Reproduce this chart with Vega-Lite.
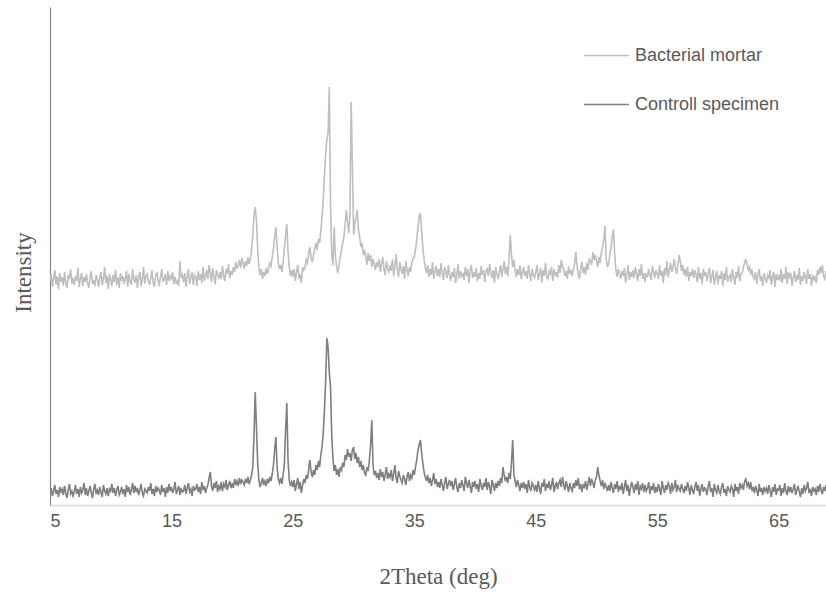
{
"$schema": "https://vega.github.io/schema/vega-lite/v6.json",
"width": 776, "height": 498,
"autosize": {"type": "none"},
"padding": {"left": 50, "top": 7, "right": 0, "bottom": 91},
"background": "white",
"config": {"view": {"stroke": null}},
"data": {"values": [
{"t":5.0,"C":12,"B":224},{"t":5.1,"C":17,"B":231},{"t":5.2,"C":9,"B":218},{"t":5.3,"C":14,"B":227},{"t":5.4,"C":20,"B":235},{"t":5.5,"C":11,"B":220},{"t":5.6,"C":15,"B":229},{"t":5.7,"C":8,"B":216},{"t":5.8,"C":18,"B":232},{"t":5.9,"C":13,"B":223},
{"t":6.0,"C":16,"B":228},{"t":6.1,"C":10,"B":219},{"t":6.2,"C":19,"B":233},{"t":6.3,"C":12,"B":222},{"t":6.4,"C":7,"B":217},{"t":6.5,"C":15,"B":230},{"t":6.6,"C":21,"B":226},{"t":6.7,"C":11,"B":236},{"t":6.8,"C":14,"B":221},{"t":6.9,"C":9,"B":227},
{"t":7.0,"C":13,"B":220},{"t":7.1,"C":20,"B":229},{"t":7.2,"C":11,"B":224},{"t":7.3,"C":16,"B":237},{"t":7.4,"C":8,"B":218},{"t":7.5,"C":18,"B":226},{"t":7.6,"C":12,"B":232},{"t":7.7,"C":15,"B":219},{"t":7.8,"C":22,"B":228},{"t":7.9,"C":10,"B":223},
{"t":8.0,"C":17,"B":231},{"t":8.1,"C":9,"B":222},{"t":8.2,"C":14,"B":217},{"t":8.3,"C":19,"B":228},{"t":8.4,"C":12,"B":234},{"t":8.5,"C":7,"B":221},{"t":8.6,"C":16,"B":225},{"t":8.7,"C":21,"B":219},{"t":8.8,"C":11,"B":230},{"t":8.9,"C":15,"B":226},
{"t":9.0,"C":10,"B":218},{"t":9.1,"C":18,"B":227},{"t":9.2,"C":13,"B":233},{"t":9.3,"C":8,"B":220},{"t":9.4,"C":20,"B":226},{"t":9.5,"C":14,"B":238},{"t":9.6,"C":11,"B":222},{"t":9.7,"C":17,"B":229},{"t":9.8,"C":9,"B":216},{"t":9.9,"C":16,"B":231},
{"t":10.0,"C":14,"B":225},{"t":10.1,"C":21,"B":219},{"t":10.2,"C":12,"B":230},{"t":10.3,"C":17,"B":223},{"t":10.4,"C":9,"B":235},{"t":10.5,"C":15,"B":220},{"t":10.6,"C":19,"B":228},{"t":10.7,"C":10,"B":217},{"t":10.8,"C":13,"B":232},{"t":10.9,"C":18,"B":224},
{"t":11.0,"C":11,"B":229},{"t":11.1,"C":16,"B":221},{"t":11.2,"C":8,"B":226},{"t":11.3,"C":20,"B":234},{"t":11.4,"C":13,"B":218},{"t":11.5,"C":18,"B":231},{"t":11.6,"C":10,"B":224},{"t":11.7,"C":15,"B":220},{"t":11.8,"C":22,"B":236},{"t":11.9,"C":12,"B":227},
{"t":12.0,"C":19,"B":222},{"t":12.1,"C":13,"B":230},{"t":12.2,"C":17,"B":217},{"t":12.3,"C":10,"B":228},{"t":12.4,"C":15,"B":233},{"t":12.5,"C":21,"B":219},{"t":12.6,"C":12,"B":226},{"t":12.7,"C":9,"B":238},{"t":12.8,"C":16,"B":221},{"t":12.9,"C":14,"B":229},
{"t":13.0,"C":12,"B":231},{"t":13.1,"C":18,"B":224},{"t":13.2,"C":14,"B":220},{"t":13.3,"C":22,"B":227},{"t":13.4,"C":11,"B":235},{"t":13.5,"C":16,"B":222},{"t":13.6,"C":9,"B":218},{"t":13.7,"C":19,"B":229},{"t":13.8,"C":13,"B":233},{"t":13.9,"C":17,"B":225},
{"t":14.0,"C":15,"B":219},{"t":14.1,"C":10,"B":228},{"t":14.2,"C":20,"B":236},{"t":14.3,"C":13,"B":223},{"t":14.4,"C":17,"B":226},{"t":14.5,"C":8,"B":231},{"t":14.6,"C":18,"B":220},{"t":14.7,"C":12,"B":234},{"t":14.8,"C":21,"B":224},{"t":14.9,"C":14,"B":229},
{"t":15.0,"C":18,"B":226},{"t":15.1,"C":12,"B":233},{"t":15.2,"C":16,"B":221},{"t":15.3,"C":23,"B":228},{"t":15.4,"C":11,"B":222},{"t":15.5,"C":15,"B":224},{"t":15.6,"C":19,"B":219},{"t":15.7,"C":10,"B":244},{"t":15.8,"C":17,"B":227},{"t":15.9,"C":13,"B":230},
{"t":16.0,"C":14,"B":223},{"t":16.1,"C":20,"B":232},{"t":16.2,"C":11,"B":218},{"t":16.3,"C":17,"B":229},{"t":16.4,"C":22,"B":236},{"t":16.5,"C":13,"B":221},{"t":16.6,"C":16,"B":227},{"t":16.7,"C":9,"B":233},{"t":16.8,"C":19,"B":220},{"t":16.9,"C":15,"B":230},
{"t":17.0,"C":16,"B":228},{"t":17.1,"C":21,"B":219},{"t":17.2,"C":13,"B":234},{"t":17.3,"C":18,"B":225},{"t":17.4,"C":11,"B":231},{"t":17.5,"C":23,"B":222},{"t":17.6,"C":15,"B":238},{"t":17.7,"C":19,"B":224},{"t":17.8,"C":12,"B":229},{"t":17.9,"C":17,"B":235},
{"t":18.0,"C":20,"B":226},{"t":18.1,"C":27,"B":240},{"t":18.2,"C":33,"B":232},{"t":18.3,"C":19,"B":223},{"t":18.4,"C":14,"B":237},{"t":18.5,"C":22,"B":228},{"t":18.6,"C":17,"B":221},{"t":18.7,"C":24,"B":235},{"t":18.8,"C":13,"B":230},{"t":18.9,"C":19,"B":227},
{"t":19.0,"C":16,"B":233},{"t":19.1,"C":23,"B":226},{"t":19.2,"C":14,"B":239},{"t":19.3,"C":21,"B":229},{"t":19.4,"C":18,"B":224},{"t":19.5,"C":25,"B":236},{"t":19.6,"C":15,"B":231},{"t":19.7,"C":20,"B":241},{"t":19.8,"C":24,"B":227},{"t":19.9,"C":17,"B":234},
{"t":20.0,"C":22,"B":230},{"t":20.1,"C":17,"B":238},{"t":20.2,"C":26,"B":233},{"t":20.3,"C":20,"B":243},{"t":20.4,"C":24,"B":236},{"t":20.5,"C":19,"B":240},{"t":20.6,"C":27,"B":245},{"t":20.7,"C":21,"B":237},{"t":20.8,"C":25,"B":247},{"t":20.9,"C":23,"B":242},
{"t":21.0,"C":20,"B":236},{"t":21.1,"C":26,"B":244},{"t":21.2,"C":22,"B":239},{"t":21.3,"C":28,"B":248},{"t":21.4,"C":21,"B":241},{"t":21.5,"C":25,"B":246},{"t":21.6,"C":30,"B":255},{"t":21.7,"C":38,"B":270},{"t":21.8,"C":70,"B":290},{"t":21.9,"C":113,"B":298},
{"t":22.0,"C":78,"B":285},{"t":22.1,"C":42,"B":256},{"t":22.2,"C":25,"B":238},{"t":22.3,"C":18,"B":230},{"t":22.4,"C":22,"B":236},{"t":22.5,"C":27,"B":226},{"t":22.6,"C":20,"B":233},{"t":22.7,"C":24,"B":229},{"t":22.8,"C":19,"B":237},{"t":22.9,"C":26,"B":231},
{"t":23.0,"C":22,"B":236},{"t":23.1,"C":28,"B":242},{"t":23.2,"C":24,"B":239},{"t":23.3,"C":31,"B":248},{"t":23.4,"C":40,"B":256},{"t":23.5,"C":55,"B":268},{"t":23.6,"C":68,"B":278},{"t":23.7,"C":38,"B":258},{"t":23.8,"C":26,"B":242},{"t":23.9,"C":22,"B":236},
{"t":24.0,"C":27,"B":240},{"t":24.1,"C":21,"B":233},{"t":24.2,"C":30,"B":244},{"t":24.3,"C":42,"B":256},{"t":24.4,"C":75,"B":270},{"t":24.5,"C":102,"B":281},{"t":24.6,"C":45,"B":254},{"t":24.7,"C":25,"B":238},{"t":24.8,"C":19,"B":229},{"t":24.9,"C":23,"B":235},
{"t":25.0,"C":18,"B":228},{"t":25.1,"C":25,"B":236},{"t":25.2,"C":14,"B":224},{"t":25.3,"C":21,"B":233},{"t":25.4,"C":27,"B":240},{"t":25.5,"C":16,"B":226},{"t":25.6,"C":23,"B":231},{"t":25.7,"C":12,"B":222},{"t":25.8,"C":20,"B":238},{"t":25.9,"C":26,"B":235},
{"t":26.0,"C":22,"B":238},{"t":26.1,"C":30,"B":245},{"t":26.2,"C":26,"B":242},{"t":26.3,"C":36,"B":252},{"t":26.4,"C":45,"B":258},{"t":26.5,"C":33,"B":247},{"t":26.6,"C":28,"B":243},{"t":26.7,"C":35,"B":250},{"t":26.8,"C":30,"B":256},{"t":26.9,"C":40,"B":262},
{"t":27.0,"C":35,"B":255},{"t":27.1,"C":44,"B":266},{"t":27.2,"C":38,"B":262},{"t":27.3,"C":50,"B":274},{"t":27.4,"C":58,"B":288},{"t":27.5,"C":72,"B":305},{"t":27.6,"C":95,"B":330},{"t":27.7,"C":125,"B":352},{"t":27.8,"C":167,"B":365},{"t":27.9,"C":158,"B":372},
{"t":28.0,"C":132,"B":418},{"t":28.1,"C":118,"B":300},{"t":28.2,"C":70,"B":250},{"t":28.3,"C":46,"B":240},{"t":28.4,"C":34,"B":278},{"t":28.5,"C":40,"B":250},{"t":28.6,"C":30,"B":238},{"t":28.7,"C":36,"B":232},{"t":28.8,"C":28,"B":240},{"t":28.9,"C":38,"B":248},
{"t":29.0,"C":35,"B":255},{"t":29.1,"C":42,"B":262},{"t":29.2,"C":38,"B":268},{"t":29.3,"C":50,"B":280},{"t":29.4,"C":45,"B":295},{"t":29.5,"C":56,"B":284},{"t":29.6,"C":48,"B":272},{"t":29.7,"C":52,"B":290},{"t":29.8,"C":44,"B":403},{"t":29.9,"C":55,"B":340},
{"t":30.0,"C":58,"B":270},{"t":30.1,"C":46,"B":282},{"t":30.2,"C":52,"B":288},{"t":30.3,"C":42,"B":295},{"t":30.4,"C":48,"B":275},{"t":30.5,"C":38,"B":268},{"t":30.6,"C":44,"B":258},{"t":30.7,"C":35,"B":262},{"t":30.8,"C":40,"B":250},{"t":30.9,"C":32,"B":255},
{"t":31.0,"C":30,"B":248},{"t":31.1,"C":38,"B":240},{"t":31.2,"C":34,"B":252},{"t":31.3,"C":45,"B":244},{"t":31.4,"C":60,"B":250},{"t":31.5,"C":85,"B":238},{"t":31.6,"C":40,"B":246},{"t":31.7,"C":30,"B":241},{"t":31.8,"C":34,"B":235},{"t":31.9,"C":27,"B":243},
{"t":32.0,"C":32,"B":238},{"t":32.1,"C":25,"B":246},{"t":32.2,"C":36,"B":233},{"t":32.3,"C":28,"B":241},{"t":32.4,"C":33,"B":248},{"t":32.5,"C":24,"B":236},{"t":32.6,"C":30,"B":230},{"t":32.7,"C":38,"B":244},{"t":32.8,"C":26,"B":237},{"t":32.9,"C":31,"B":232},
{"t":33.0,"C":28,"B":240},{"t":33.1,"C":35,"B":234},{"t":33.2,"C":24,"B":246},{"t":33.3,"C":31,"B":229},{"t":33.4,"C":40,"B":238},{"t":33.5,"C":27,"B":251},{"t":33.6,"C":22,"B":235},{"t":33.7,"C":34,"B":228},{"t":33.8,"C":29,"B":243},{"t":33.9,"C":25,"B":236},
{"t":34.0,"C":22,"B":231},{"t":34.1,"C":30,"B":239},{"t":34.2,"C":26,"B":226},{"t":34.3,"C":20,"B":244},{"t":34.4,"C":28,"B":235},{"t":34.5,"C":33,"B":229},{"t":34.6,"C":24,"B":238},{"t":34.7,"C":30,"B":233},{"t":34.8,"C":27,"B":242},{"t":34.9,"C":35,"B":247},
{"t":35.0,"C":30,"B":248},{"t":35.1,"C":38,"B":256},{"t":35.2,"C":45,"B":265},{"t":35.3,"C":55,"B":278},{"t":35.4,"C":60,"B":288},{"t":35.5,"C":65,"B":292},{"t":35.6,"C":52,"B":275},{"t":35.7,"C":42,"B":258},{"t":35.8,"C":33,"B":246},{"t":35.9,"C":28,"B":238},
{"t":36.0,"C":24,"B":232},{"t":36.1,"C":30,"B":240},{"t":36.2,"C":22,"B":228},{"t":36.3,"C":27,"B":236},{"t":36.4,"C":19,"B":230},{"t":36.5,"C":25,"B":243},{"t":36.6,"C":32,"B":226},{"t":36.7,"C":21,"B":234},{"t":36.8,"C":26,"B":239},{"t":36.9,"C":18,"B":229},
{"t":37.0,"C":23,"B":236},{"t":37.1,"C":17,"B":228},{"t":37.2,"C":26,"B":242},{"t":37.3,"C":20,"B":231},{"t":37.4,"C":14,"B":225},{"t":37.5,"C":22,"B":238},{"t":37.6,"C":28,"B":233},{"t":37.7,"C":16,"B":227},{"t":37.8,"C":21,"B":240},{"t":37.9,"C":25,"B":230},
{"t":38.0,"C":19,"B":224},{"t":38.1,"C":24,"B":233},{"t":38.2,"C":15,"B":228},{"t":38.3,"C":21,"B":237},{"t":38.4,"C":27,"B":222},{"t":38.5,"C":18,"B":230},{"t":38.6,"C":13,"B":241},{"t":38.7,"C":22,"B":226},{"t":38.8,"C":17,"B":234},{"t":38.9,"C":25,"B":229},
{"t":39.0,"C":20,"B":231},{"t":39.1,"C":14,"B":225},{"t":39.2,"C":28,"B":238},{"t":39.3,"C":22,"B":229},{"t":39.4,"C":17,"B":236},{"t":39.5,"C":25,"B":222},{"t":39.6,"C":19,"B":234},{"t":39.7,"C":12,"B":240},{"t":39.8,"C":23,"B":227},{"t":39.9,"C":18,"B":233},
{"t":40.0,"C":24,"B":228},{"t":40.1,"C":16,"B":237},{"t":40.2,"C":21,"B":224},{"t":40.3,"C":13,"B":232},{"t":40.4,"C":26,"B":226},{"t":40.5,"C":19,"B":239},{"t":40.6,"C":15,"B":230},{"t":40.7,"C":22,"B":235},{"t":40.8,"C":18,"B":223},{"t":40.9,"C":27,"B":234},
{"t":41.0,"C":15,"B":236},{"t":41.1,"C":23,"B":229},{"t":41.2,"C":18,"B":241},{"t":41.3,"C":11,"B":232},{"t":41.4,"C":25,"B":227},{"t":41.5,"C":20,"B":235},{"t":41.6,"C":14,"B":222},{"t":41.7,"C":22,"B":238},{"t":41.8,"C":17,"B":231},{"t":41.9,"C":24,"B":226},
{"t":42.0,"C":19,"B":233},{"t":42.1,"C":27,"B":240},{"t":42.2,"C":22,"B":228},{"t":42.3,"C":38,"B":236},{"t":42.4,"C":30,"B":244},{"t":42.5,"C":24,"B":231},{"t":42.6,"C":28,"B":238},{"t":42.7,"C":22,"B":229},{"t":42.8,"C":32,"B":246},{"t":42.9,"C":26,"B":270},
{"t":43.0,"C":42,"B":250},{"t":43.1,"C":65,"B":238},{"t":43.2,"C":30,"B":245},{"t":43.3,"C":24,"B":235},{"t":43.4,"C":18,"B":228},{"t":43.5,"C":25,"B":236},{"t":43.6,"C":20,"B":230},{"t":43.7,"C":14,"B":240},{"t":43.8,"C":22,"B":226},{"t":43.9,"C":17,"B":233},
{"t":44.0,"C":23,"B":238},{"t":44.1,"C":16,"B":229},{"t":44.2,"C":21,"B":234},{"t":44.3,"C":12,"B":226},{"t":44.4,"C":25,"B":240},{"t":44.5,"C":18,"B":231},{"t":44.6,"C":14,"B":224},{"t":44.7,"C":22,"B":236},{"t":44.8,"C":19,"B":230},{"t":44.9,"C":15,"B":227},
{"t":45.0,"C":20,"B":233},{"t":45.1,"C":13,"B":240},{"t":45.2,"C":24,"B":225},{"t":45.3,"C":17,"B":231},{"t":45.4,"C":11,"B":237},{"t":45.5,"C":22,"B":222},{"t":45.6,"C":18,"B":235},{"t":45.7,"C":26,"B":229},{"t":45.8,"C":14,"B":242},{"t":45.9,"C":21,"B":228},
{"t":46.0,"C":17,"B":226},{"t":46.1,"C":24,"B":234},{"t":46.2,"C":15,"B":231},{"t":46.3,"C":20,"B":238},{"t":46.4,"C":27,"B":224},{"t":46.5,"C":13,"B":236},{"t":46.6,"C":19,"B":229},{"t":46.7,"C":23,"B":233},{"t":46.8,"C":16,"B":227},{"t":46.9,"C":22,"B":240},
{"t":47.0,"C":25,"B":232},{"t":47.1,"C":18,"B":245},{"t":47.2,"C":28,"B":238},{"t":47.3,"C":21,"B":236},{"t":47.4,"C":15,"B":229},{"t":47.5,"C":24,"B":234},{"t":47.6,"C":19,"B":226},{"t":47.7,"C":13,"B":239},{"t":47.8,"C":22,"B":231},{"t":47.9,"C":17,"B":235},
{"t":48.0,"C":14,"B":229},{"t":48.1,"C":22,"B":236},{"t":48.2,"C":17,"B":241},{"t":48.3,"C":25,"B":253},{"t":48.4,"C":19,"B":238},{"t":48.5,"C":27,"B":231},{"t":48.6,"C":16,"B":226},{"t":48.7,"C":21,"B":237},{"t":48.8,"C":13,"B":243},{"t":48.9,"C":20,"B":232},
{"t":49.0,"C":18,"B":238},{"t":49.1,"C":24,"B":230},{"t":49.2,"C":15,"B":242},{"t":49.3,"C":21,"B":235},{"t":49.4,"C":28,"B":246},{"t":49.5,"C":19,"B":244},{"t":49.6,"C":26,"B":240},{"t":49.7,"C":22,"B":253},{"t":49.8,"C":17,"B":245},{"t":49.9,"C":25,"B":250},
{"t":50.0,"C":28,"B":244},{"t":50.1,"C":38,"B":238},{"t":50.2,"C":30,"B":248},{"t":50.3,"C":24,"B":242},{"t":50.4,"C":19,"B":252},{"t":50.5,"C":25,"B":258},{"t":50.6,"C":16,"B":265},{"t":50.7,"C":22,"B":279},{"t":50.8,"C":18,"B":246},{"t":50.9,"C":14,"B":238},
{"t":51.0,"C":20,"B":242},{"t":51.1,"C":14,"B":250},{"t":51.2,"C":23,"B":258},{"t":51.3,"C":17,"B":268},{"t":51.4,"C":12,"B":276},{"t":51.5,"C":21,"B":250},{"t":51.6,"C":16,"B":235},{"t":51.7,"C":24,"B":228},{"t":51.8,"C":13,"B":236},{"t":51.9,"C":19,"B":231},
{"t":52.0,"C":15,"B":226},{"t":52.1,"C":22,"B":234},{"t":52.2,"C":11,"B":229},{"t":52.3,"C":18,"B":237},{"t":52.4,"C":25,"B":222},{"t":52.5,"C":14,"B":231},{"t":52.6,"C":20,"B":240},{"t":52.7,"C":9,"B":225},{"t":52.8,"C":17,"B":233},{"t":52.9,"C":23,"B":228},
{"t":53.0,"C":18,"B":235},{"t":53.1,"C":12,"B":227},{"t":53.2,"C":21,"B":238},{"t":53.3,"C":15,"B":231},{"t":53.4,"C":24,"B":224},{"t":53.5,"C":10,"B":236},{"t":53.6,"C":19,"B":229},{"t":53.7,"C":16,"B":241},{"t":53.8,"C":22,"B":226},{"t":53.9,"C":13,"B":232},
{"t":54.0,"C":20,"B":223},{"t":54.1,"C":14,"B":232},{"t":54.2,"C":17,"B":228},{"t":54.3,"C":23,"B":236},{"t":54.4,"C":11,"B":230},{"t":54.5,"C":19,"B":225},{"t":54.6,"C":15,"B":239},{"t":54.7,"C":22,"B":233},{"t":54.8,"C":12,"B":227},{"t":54.9,"C":18,"B":235},
{"t":55.0,"C":13,"B":231},{"t":55.1,"C":21,"B":226},{"t":55.2,"C":16,"B":240},{"t":55.3,"C":10,"B":229},{"t":55.4,"C":24,"B":234},{"t":55.5,"C":17,"B":222},{"t":55.6,"C":12,"B":237},{"t":55.7,"C":20,"B":230},{"t":55.8,"C":15,"B":244},{"t":55.9,"C":22,"B":228},
{"t":56.0,"C":19,"B":235},{"t":56.1,"C":11,"B":242},{"t":56.2,"C":22,"B":233},{"t":56.3,"C":15,"B":238},{"t":56.4,"C":18,"B":246},{"t":56.5,"C":25,"B":237},{"t":56.6,"C":13,"B":231},{"t":56.7,"C":20,"B":239},{"t":56.8,"C":16,"B":250},{"t":56.9,"C":14,"B":244},
{"t":57.0,"C":21,"B":234},{"t":57.1,"C":16,"B":240},{"t":57.2,"C":12,"B":230},{"t":57.3,"C":19,"B":236},{"t":57.4,"C":14,"B":228},{"t":57.5,"C":23,"B":238},{"t":57.6,"C":17,"B":224},{"t":57.7,"C":10,"B":233},{"t":57.8,"C":20,"B":229},{"t":57.9,"C":15,"B":236},
{"t":58.0,"C":11,"B":227},{"t":58.1,"C":18,"B":235},{"t":58.2,"C":23,"B":230},{"t":58.3,"C":14,"B":223},{"t":58.4,"C":20,"B":238},{"t":58.5,"C":9,"B":226},{"t":58.6,"C":16,"B":232},{"t":58.7,"C":21,"B":221},{"t":58.8,"C":13,"B":236},{"t":58.9,"C":17,"B":229},
{"t":59.0,"C":16,"B":233},{"t":59.1,"C":10,"B":224},{"t":59.2,"C":19,"B":231},{"t":59.3,"C":24,"B":237},{"t":59.4,"C":13,"B":222},{"t":59.5,"C":17,"B":229},{"t":59.6,"C":8,"B":235},{"t":59.7,"C":21,"B":220},{"t":59.8,"C":15,"B":228},{"t":59.9,"C":12,"B":234},
{"t":60.0,"C":20,"B":221},{"t":60.1,"C":14,"B":230},{"t":60.2,"C":11,"B":226},{"t":60.3,"C":18,"B":234},{"t":60.4,"C":22,"B":219},{"t":60.5,"C":12,"B":232},{"t":60.6,"C":16,"B":225},{"t":60.7,"C":9,"B":238},{"t":60.8,"C":19,"B":223},{"t":60.9,"C":15,"B":228},
{"t":61.0,"C":13,"B":230},{"t":61.1,"C":19,"B":223},{"t":61.2,"C":16,"B":236},{"t":61.3,"C":8,"B":228},{"t":61.4,"C":21,"B":220},{"t":61.5,"C":14,"B":233},{"t":61.6,"C":18,"B":227},{"t":61.7,"C":11,"B":239},{"t":61.8,"C":22,"B":224},{"t":61.9,"C":17,"B":231},
{"t":62.0,"C":20,"B":232},{"t":62.1,"C":15,"B":238},{"t":62.2,"C":24,"B":242},{"t":62.3,"C":26,"B":246},{"t":62.4,"C":19,"B":240},{"t":62.5,"C":22,"B":235},{"t":62.6,"C":16,"B":238},{"t":62.7,"C":23,"B":230},{"t":62.8,"C":14,"B":236},{"t":62.9,"C":18,"B":228},
{"t":63.0,"C":12,"B":226},{"t":63.1,"C":19,"B":233},{"t":63.2,"C":15,"B":221},{"t":63.3,"C":9,"B":230},{"t":63.4,"C":21,"B":236},{"t":63.5,"C":13,"B":224},{"t":63.6,"C":17,"B":229},{"t":63.7,"C":10,"B":219},{"t":63.8,"C":18,"B":232},{"t":63.9,"C":14,"B":227},
{"t":64.0,"C":17,"B":222},{"t":64.1,"C":11,"B":230},{"t":64.2,"C":20,"B":227},{"t":64.3,"C":14,"B":235},{"t":64.4,"C":8,"B":220},{"t":64.5,"C":18,"B":228},{"t":64.6,"C":13,"B":233},{"t":64.7,"C":21,"B":218},{"t":64.8,"C":10,"B":231},{"t":64.9,"C":16,"B":225},
{"t":65.0,"C":15,"B":229},{"t":65.1,"C":20,"B":224},{"t":65.2,"C":9,"B":236},{"t":65.3,"C":17,"B":222},{"t":65.4,"C":12,"B":231},{"t":65.5,"C":22,"B":226},{"t":65.6,"C":14,"B":238},{"t":65.7,"C":10,"B":221},{"t":65.8,"C":19,"B":233},{"t":65.9,"C":13,"B":228},
{"t":66.0,"C":18,"B":232},{"t":66.1,"C":12,"B":219},{"t":66.2,"C":16,"B":227},{"t":66.3,"C":21,"B":234},{"t":66.4,"C":10,"B":223},{"t":66.5,"C":15,"B":230},{"t":66.6,"C":19,"B":225},{"t":66.7,"C":13,"B":237},{"t":66.8,"C":8,"B":220},{"t":66.9,"C":17,"B":229},
{"t":67.0,"C":11,"B":224},{"t":67.1,"C":20,"B":233},{"t":67.2,"C":14,"B":228},{"t":67.3,"C":17,"B":221},{"t":67.4,"C":23,"B":236},{"t":67.5,"C":12,"B":226},{"t":67.6,"C":16,"B":231},{"t":67.7,"C":9,"B":219},{"t":67.8,"C":18,"B":230},{"t":67.9,"C":14,"B":225},
{"t":68.0,"C":16,"B":228},{"t":68.1,"C":10,"B":222},{"t":68.2,"C":19,"B":235},{"t":68.3,"C":13,"B":230},{"t":68.4,"C":21,"B":238},{"t":68.5,"C":15,"B":232},{"t":68.6,"C":11,"B":240},{"t":68.7,"C":18,"B":229},{"t":68.8,"C":14,"B":226},{"t":68.9,"C":20,"B":234}
]},
"transform": [{"fold": ["B", "C"], "as": ["series", "value"]}],
"mark": {"type": "line", "strokeWidth": 1.6, "clip": true},
"encoding": {
  "x": {"field": "t", "type": "quantitative",
    "scale": {"domain": [5, 68.9], "nice": false, "zero": false},
    "axis": {"values": [5, 15, 25, 35, 45, 55, 65], "grid": false, "ticks": false,
      "domainColor": "#d9d9d9", "domainWidth": 1.5,
      "labelFont": "Liberation Sans", "labelFontSize": 18, "labelColor": "#595959", "labelPadding": 7,
      "title": "2Theta (deg)", "titleFont": "Liberation Serif", "titleFontSize": 23, "titleFontWeight": "normal",
      "titleColor": "#595959", "titlePadding": 35}},
  "y": {"field": "value", "type": "quantitative",
    "scale": {"domain": [0, 498], "nice": false},
    "axis": {"grid": false, "ticks": false, "labels": false,
      "domainColor": "#868686", "domainWidth": 1.2,
      "title": "Intensity", "titleFont": "Liberation Serif", "titleFontSize": 23, "titleFontWeight": "normal",
      "titleColor": "#595959", "titlePadding": 15, "titleY": 265}},
  "color": {"field": "series", "type": "nominal",
    "scale": {"domain": ["B", "C"], "range": ["#bfbfbf", "#7f7f7f"]},
    "legend": {"title": null, "orient": "none", "legendX": 533, "legendY": 25,
      "symbolType": "stroke", "symbolSize": 2025, "symbolStrokeWidth": 1.5,
      "labelFont": "Liberation Sans", "labelFontSize": 18, "labelColor": "#595959",
      "labelOffset": 5, "rowPadding": 16, "padding": 0,
      "labelExpr": "datum.label == 'B' ? 'Bacterial mortar' : 'Controll specimen'"}}
}
}
